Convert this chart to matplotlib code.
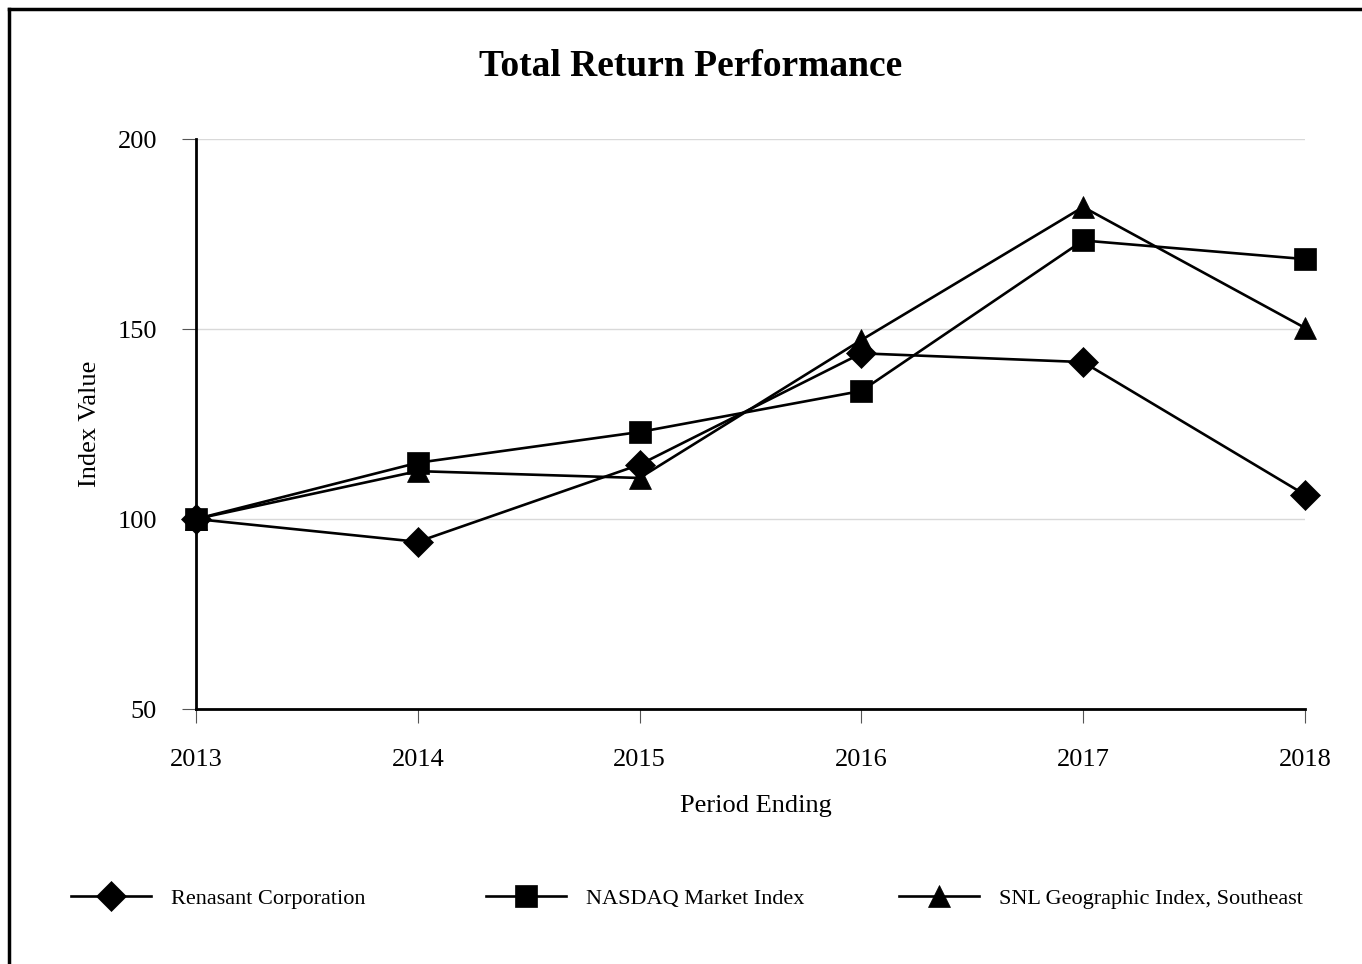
import matplotlib.pyplot as plt
from matplotlib.lines import Line2D

# values
years = [2013, 2014, 2015, 2016, 2017, 2018]
renasant = [100.0, 94.0, 114.3, 143.6, 141.3, 106.4]
nasdaq = [100.0, 114.8, 122.9, 133.7, 173.3, 168.4]
snl = [100.0, 112.6, 110.8, 147.1, 182.1, 150.3]
series_names = ['Renasant Corporation', 'NASDAQ Market Index', 'SNL Geographic Index, Southeast']
y_ticks = [50, 100, 150, 200]

plt.rcParams['font.family'] = ['Liberation Serif', 'DejaVu Serif']

fig = plt.figure(figsize=(13.62, 9.64), dpi=100)
ax = fig.add_axes([0.1439, 0.2645, 0.8142, 0.5913])

style = dict(color='black', linewidth=1.9, markersize=15.5, markeredgewidth=0.5, clip_on=False, zorder=3)
l1, = ax.plot(years, renasant, marker='D', **style)
l2, = ax.plot(years, nasdaq, marker='s', **style)
l3, = ax.plot(years, snl, marker='^', **style)

ax.set_xlim(years[0], years[-1])
ax.set_ylim(50, 200)
ax.set_xticks(years)
ax.set_yticks(y_ticks)
ax.tick_params(axis='both', labelsize=19, length=10, width=0.8, color='#555555')
ax.tick_params(axis='x', pad=19)
ax.tick_params(axis='y', pad=18)
ax.grid(axis='y', color='#d9d9d9', linewidth=1.0)
ax.set_axisbelow(True)
for s in ['top', 'right']:
    ax.spines[s].set_visible(False)
ax.spines['left'].set_linewidth(2.0)
ax.spines['bottom'].set_linewidth(2.0)

ax.set_xlabel('Period Ending', fontsize=19)
ax.xaxis.set_label_coords(0.505, -0.151)
ax.set_ylabel('Index Value', fontsize=19)
ax.yaxis.set_label_coords(-0.086, 0.5)

fig.text(0.507, 0.931, 'Total Return Performance', ha='center', va='center', fontsize=27, fontweight='bold')

# legend entries spread evenly along the bottom
legend_x = [0.0455, 0.350, 0.6535]
for h, name, lx in zip([l1, l2, l3], series_names, legend_x):
    fig.legend([h], [name], loc='center left', bbox_to_anchor=(lx, 0.068), frameon=False,
               fontsize=16, handlelength=3.6, handletextpad=0.9, borderaxespad=0)

# outer frame (top and left only)
fig.add_artist(Line2D([0.0066, 1.0], [0.9907, 0.9907], transform=fig.transFigure, color='black', linewidth=2.5))
fig.add_artist(Line2D([0.0066, 0.0066], [0.0, 0.9907], transform=fig.transFigure, color='black', linewidth=2.5))

fig.savefig('out.png', dpi=100)
